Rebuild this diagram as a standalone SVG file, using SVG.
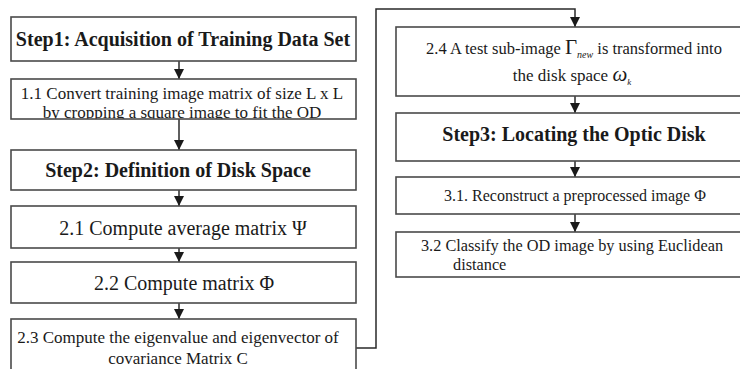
<svg xmlns="http://www.w3.org/2000/svg" width="740" height="369" viewBox="0 0 740 369">
  <style>
    .box { fill: #ffffff; stroke: #4a4a4a; stroke-width: 1.6; }
    .frame { fill: none; stroke: #4a4a4a; stroke-width: 1.6; }
    .t { font-family: "Liberation Serif", "Times New Roman", serif; fill: #1a1a1a; text-anchor: middle; }
    .b { font-weight: bold; }
    .wire { fill: none; stroke: #2a2a2a; stroke-width: 1.5; }
  </style>
  <defs>
    <marker id="arrow" viewBox="0 0 10 10" refX="10" refY="5" markerWidth="10" markerHeight="10" markerUnits="userSpaceOnUse" orient="auto">
      <path d="M0,0 L10,5 L0,10 Z" fill="#1a1a1a"/>
    </marker>
    <clipPath id="clip11"><rect x="11" y="79" width="345" height="40"/></clipPath>
  </defs>
  <rect width="740" height="369" fill="#ffffff"/>

  <g id="connectors">
    <line class="wire" x1="179" y1="61" x2="179" y2="79" marker-end="url(#arrow)"/>
    <line class="wire" x1="179" y1="119" x2="179" y2="150" marker-end="url(#arrow)"/>
    <line class="wire" x1="179" y1="190" x2="179" y2="206" marker-end="url(#arrow)"/>
    <line class="wire" x1="179" y1="248" x2="179" y2="262" marker-end="url(#arrow)"/>
    <line class="wire" x1="179" y1="303" x2="179" y2="319" marker-end="url(#arrow)"/>
    <polyline class="wire" points="356,348 376,348 376,9 575,9 575,27" marker-end="url(#arrow)"/>
    <line class="wire" x1="575" y1="96" x2="575" y2="113" marker-end="url(#arrow)"/>
    <line class="wire" x1="575" y1="161" x2="575" y2="177" marker-end="url(#arrow)"/>
    <line class="wire" x1="575" y1="214" x2="575" y2="232" marker-end="url(#arrow)"/>
  </g>

  <g id="step1">
    <rect class="box" x="11" y="17" width="345" height="44"/>
    <text class="t b" x="183" y="46" font-size="20">Step1: Acquisition of Training Data Set</text>
  </g>
  <g id="s1_1">
    <rect x="11" y="79" width="345" height="40" fill="#ffffff"/>
    <g clip-path="url(#clip11)">
      <text class="t" x="182" y="99" font-size="17">1.1 Convert training image matrix of size L x L</text>
      <text class="t" x="182" y="118" font-size="17">by cropping a square image to fit the OD</text>
    </g>
    <rect class="frame" x="11" y="79" width="345" height="40"/>
  </g>
  <g id="step2">
    <rect class="box" x="11" y="150" width="345" height="40"/>
    <text class="t b" x="178" y="177" font-size="20">Step2: Definition of Disk Space</text>
  </g>
  <g id="s2_1">
    <rect class="box" x="11" y="206" width="345" height="42"/>
    <text class="t" x="183" y="235" font-size="20">2.1 Compute average matrix  Ψ</text>
  </g>
  <g id="s2_2">
    <rect class="box" x="11" y="262" width="345" height="41"/>
    <text class="t" x="184" y="290" font-size="20">2.2 Compute matrix  Φ</text>
  </g>
  <g id="s2_3">
    <rect class="box" x="11" y="319" width="345" height="60"/>
    <text class="t" x="178" y="343" font-size="17">2.3 Compute the eigenvalue and eigenvector of</text>
    <text class="t" x="178" y="364" font-size="17">covariance Matrix C</text>
  </g>

  <g id="s2_4">
    <rect class="box" x="396" y="27" width="360" height="69"/>
    <text class="t" x="574" y="54" font-size="16.5">2.4 A test sub-image <tspan font-size="21">Γ</tspan><tspan font-size="10" font-style="italic" dy="4">new</tspan><tspan dy="-4">  is transformed into</tspan></text>
    <text class="t" x="572" y="81" font-size="17">the disk space  <tspan font-size="21" font-style="italic">ω</tspan><tspan font-size="9" font-style="italic" dy="4">k</tspan></text>
  </g>
  <g id="step3">
    <rect class="box" x="396" y="113" width="360" height="48"/>
    <text class="t b" x="574" y="141" font-size="20">Step3:  Locating the Optic Disk</text>
  </g>
  <g id="s3_1">
    <rect class="box" x="396" y="177" width="360" height="37"/>
    <text class="t" x="575" y="201" font-size="16">3.1. Reconstruct a preprocessed image  Φ</text>
  </g>
  <g id="s3_2">
    <rect class="box" x="396" y="232" width="360" height="45"/>
    <text class="t" x="572" y="251" font-size="16.3">3.2 Classify the OD image by using Euclidean</text>
    <text class="t" x="453" y="270" font-size="16.3" style="text-anchor:start">distance</text>
  </g>
</svg>
